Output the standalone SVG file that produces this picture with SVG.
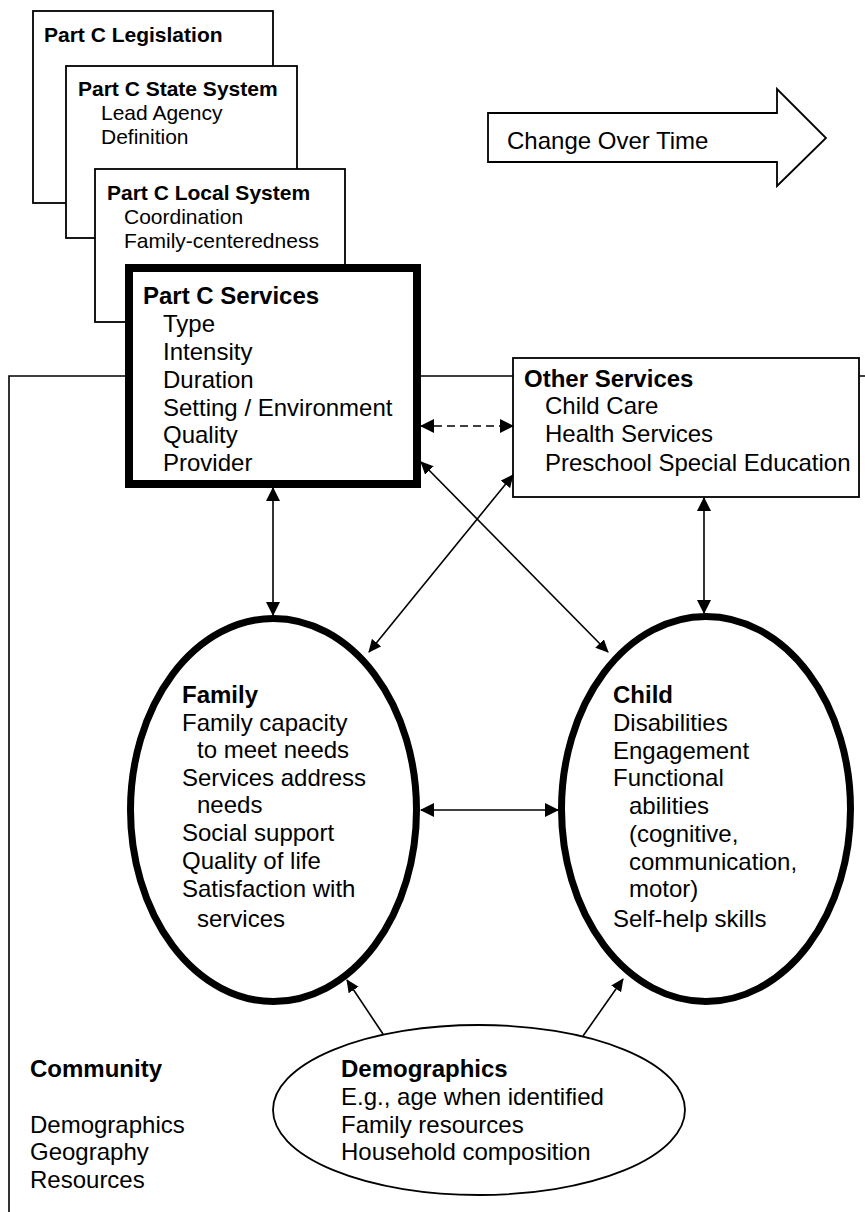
<svg xmlns="http://www.w3.org/2000/svg" width="865" height="1212" viewBox="0 0 865 1212">
<defs>
<marker id="ah" markerUnits="userSpaceOnUse" markerWidth="14" markerHeight="14" refX="13" refY="7" orient="auto-start-reverse" viewBox="0 0 14 14">
<path d="M0,0 L14,7 L0,14 z" fill="#000"/>
</marker>
<marker id="as" markerUnits="userSpaceOnUse" markerWidth="13" markerHeight="12" refX="12" refY="6" orient="auto-start-reverse" viewBox="0 0 13 12">
<path d="M0,0 L13,6 L0,12 z" fill="#000"/>
</marker>
<style>
.box{fill:#fff;stroke:#000;stroke-width:1.8}
.thick{fill:#fff;stroke:#000;stroke-width:8}
.oval{fill:#fff;stroke:#000;stroke-width:7}
.thin{fill:#fff;stroke:#000;stroke-width:1.8}
text{font-family:"Liberation Sans",Arial,Helvetica,sans-serif;fill:#000}
.t21{font-size:21px}
.b21{font-size:21px;font-weight:bold}
.t24{font-size:24px}
.b24{font-size:24px;font-weight:bold}
.con{stroke:#000;stroke-width:1.6;fill:none}
</style>
</defs>
<g id="community">
<path d="M9,1212 V376 H865" fill="none" stroke="#000" stroke-width="1.6"/>
<text class="b24" x="30" y="1077">Community</text>
<text class="t24" x="30" y="1133">Demographics</text>
<text class="t24" x="30" y="1160">Geography</text>
<text class="t24" x="30" y="1188">Resources</text>
</g>
<g id="legislation">
<rect class="box" x="33" y="11" width="240" height="192"/>
<text class="b21" x="44" y="41.5">Part C Legislation</text>
</g>
<g id="state-system">
<rect class="box" x="66" y="66" width="231" height="172"/>
<text class="b21" x="78" y="95.5">Part C State System</text>
<text class="t21" x="101" y="120">Lead Agency</text>
<text class="t21" x="101" y="144">Definition</text>
</g>
<g id="local-system">
<rect class="box" x="95" y="169" width="250" height="153"/>
<text class="b21" x="107" y="200">Part C Local System</text>
<text class="t21" x="124" y="224">Coordination</text>
<text class="t21" x="124" y="248">Family-centeredness</text>
</g>
<g id="change-over-time">
<path d="M488,113 H777 V89 L826,138 L777,186 V162 H488 Z" fill="#fff" stroke="#000" stroke-width="1.8"/>
<text class="t24" x="507" y="149">Change Over Time</text>
</g>
<g id="part-c-services">
<rect class="thick" x="129" y="268" width="288" height="216"/>
<text class="b24" x="143" y="304">Part C Services</text>
<text class="t24" x="163" y="332">Type</text>
<text class="t24" x="163" y="360">Intensity</text>
<text class="t24" x="163" y="388">Duration</text>
<text class="t24" x="163" y="416">Setting / Environment</text>
<text class="t24" x="163" y="443">Quality</text>
<text class="t24" x="163" y="471">Provider</text>
</g>
<g id="other-services">
<rect class="box" x="513" y="358" width="346" height="139"/>
<text class="b24" x="524" y="387">Other Services</text>
<text class="t24" x="545" y="414">Child Care</text>
<text class="t24" x="545" y="442">Health Services</text>
<text class="t24" x="545" y="471">Preschool Special Education</text>
</g>
<g id="family">
<ellipse class="oval" cx="273.5" cy="810" rx="143" ry="191.5"/>
<text class="b24" x="182" y="703">Family</text>
<text class="t24" x="182" y="731">Family capacity</text>
<text class="t24" x="197" y="758">to meet needs</text>
<text class="t24" x="182" y="786">Services address</text>
<text class="t24" x="197" y="813">needs</text>
<text class="t24" x="182" y="841">Social support</text>
<text class="t24" x="182" y="869">Quality of life</text>
<text class="t24" x="182" y="897">Satisfaction with</text>
<text class="t24" x="197" y="927">services</text>
</g>
<g id="child">
<ellipse class="oval" cx="706" cy="809" rx="144.5" ry="192.5"/>
<text class="b24" x="613" y="703">Child</text>
<text class="t24" x="613" y="731">Disabilities</text>
<text class="t24" x="613" y="759">Engagement</text>
<text class="t24" x="613" y="786">Functional</text>
<text class="t24" x="629" y="814">abilities</text>
<text class="t24" x="629" y="842">(cognitive,</text>
<text class="t24" x="629" y="870">communication,</text>
<text class="t24" x="629" y="897">motor)</text>
<text class="t24" x="613" y="927">Self-help skills</text>
</g>
<g id="demographics">
<ellipse class="thin" cx="479" cy="1110" rx="206" ry="85"/>
<text class="b24" x="341" y="1077">Demographics</text>
<text class="t24" x="341" y="1105">E.g., age when identified</text>
<text class="t24" x="341" y="1133">Family resources</text>
<text class="t24" x="341" y="1160">Household composition</text>
</g>
<g id="connectors">
<line class="con" x1="273" y1="488" x2="273" y2="615" marker-start="url(#ah)" marker-end="url(#ah)"/>
<line class="con" x1="704" y1="498" x2="704" y2="613" marker-start="url(#ah)" marker-end="url(#ah)"/>
<line class="con" x1="421" y1="810" x2="558" y2="810" marker-start="url(#ah)" marker-end="url(#ah)"/>
<line class="con" x1="421" y1="426" x2="513" y2="426" stroke-dasharray="8,5" marker-start="url(#ah)" marker-end="url(#ah)"/>
<line class="con" x1="421" y1="462" x2="608" y2="652" marker-start="url(#as)" marker-end="url(#as)"/>
<line class="con" x1="513" y1="475" x2="369" y2="652" marker-start="url(#as)" marker-end="url(#as)"/>
<line class="con" x1="383" y1="1034" x2="347" y2="980" marker-end="url(#as)"/>
<line class="con" x1="583" y1="1036" x2="623" y2="979" marker-end="url(#as)"/>
</g>
</svg>
